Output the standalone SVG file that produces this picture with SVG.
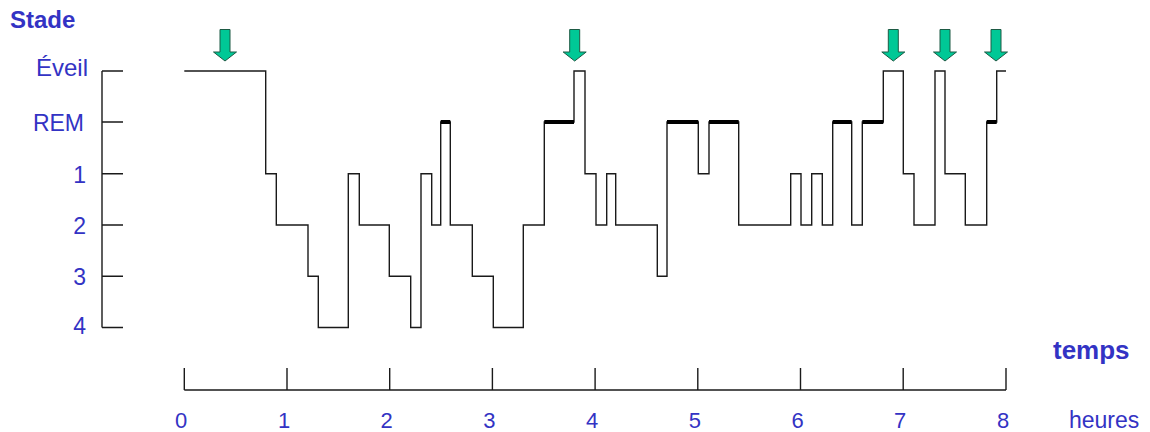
<svg xmlns="http://www.w3.org/2000/svg" width="1150" height="432" viewBox="0 0 1150 432">
<style>
.lbl{font-family:"Liberation Sans",Arial,sans-serif;fill:#3333C4;font-size:23px}
.b{font-weight:bold}
.st{font-size:24px}
.tm{font-size:26px}
.ev{font-size:24px}
.num{font-size:22px;text-anchor:middle}
.ax{stroke:#1a1a1a;stroke-width:1.4;fill:none}
.tr{stroke:#1a1a1a;stroke-width:1.4;fill:none}
.rem{stroke:#000;stroke-width:4;fill:none}
.arr{fill:#00C896;stroke:#1d5a44;stroke-width:1}
</style>
<defs>
<path id="arrow" d="M-5,29.5 H5 V52 H11.5 L0,61 L-11.5,52 H-5 Z"/>
</defs>
<rect width="1150" height="432" fill="#fff"/>
<g id="y-axis">
<path class="ax" d="M102,71 V327.5 M102,71 H123 M102,122 H123 M102,173.7 H123 M102,225 H123 M102,276.3 H123 M102,327.5 H123"/>
<text class="lbl b st" x="10" y="28">Stade</text>
<text class="lbl ev" x="88" y="76" text-anchor="end">Éveil</text>
<text class="lbl" x="84" y="131" text-anchor="end">REM</text>
<text class="lbl" x="86" y="182.5" text-anchor="end">1</text>
<text class="lbl" x="86" y="233.5" text-anchor="end">2</text>
<text class="lbl" x="86" y="285" text-anchor="end">3</text>
<text class="lbl" x="86" y="334" text-anchor="end">4</text>
</g>
<g id="x-axis">
<path class="ax" d="M184.3,390 H1006 M184.3,368 V390 M287,368 V390 M389.7,368 V390 M492.4,368 V390 M595.1,368 V390 M697.8,368 V390 M800.5,368 V390 M903.2,368 V390 M1006,368 V390"/>
<text class="lbl num" x="181" y="428">0</text>
<text class="lbl num" x="284" y="428">1</text>
<text class="lbl num" x="386.7" y="428">2</text>
<text class="lbl num" x="489.4" y="428">3</text>
<text class="lbl num" x="592.1" y="428">4</text>
<text class="lbl num" x="694.8" y="428">5</text>
<text class="lbl num" x="797.5" y="428">6</text>
<text class="lbl num" x="900.2" y="428">7</text>
<text class="lbl num" x="1003" y="428">8</text>
<text class="lbl b tm" x="1053" y="359">temps</text>
<text class="lbl" x="1069" y="428">heures</text>
</g>
<g id="hypnogram">
<path class="tr" d="M184.3,71 H265.7 V173.7 H276.3 V225 H308 V276.3 H318.3 V327.5 H348.3 V173.7 H359.3 V225 H389.3 V276.3 H410.7 V327.5 H421 V173.7 H431.7 V225 H440.7 V122 H450.3 V225 H472.3 V276.3 H493.3 V327.5 H523.3 V225 H544.3 V122 H574 V71 H585 V173.7 H596 V225 H606.7 V173.7 H615.7 V225 H657.3 V276.3 H667 V122 H698.3 V173.7 H709 V122 H738.7 V225 H790.7 V173.7 H801 V225 H811.7 V173.7 H822.3 V225 H832.7 V122 H851.7 V225 H862.3 V122 H883.3 V71 H903.3 V173.7 H914 V225 H935 V71 H945 V173.7 H965.3 V225 H986.7 V122 H996.7 V71 H1006"/>
<path class="rem" d="M440.7,122 H450.3 M544.3,122 H574 M667,122 H698.3 M709,122 H738.7 M832.7,122 H851.7 M862.3,122 H883.3 M986.7,122 H996.7"/>
</g>
<g id="arrows">
<use href="#arrow" class="arr" transform="translate(225,0)"/>
<use href="#arrow" class="arr" transform="translate(574.7,0)"/>
<use href="#arrow" class="arr" transform="translate(893.3,0)"/>
<use href="#arrow" class="arr" transform="translate(945,0)"/>
<use href="#arrow" class="arr" transform="translate(996,0)"/>
</g>
</svg>
